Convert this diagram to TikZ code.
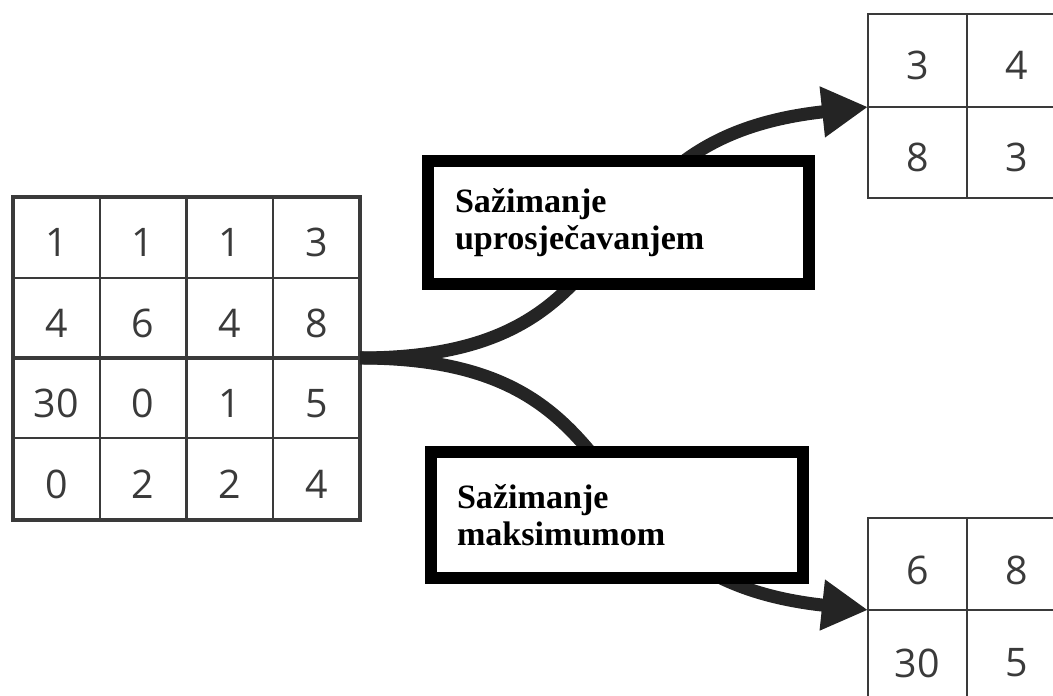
\documentclass[tikz,border=0pt]{standalone}
\usepackage{fontspec}
\setmainfont{Open Sans}
\newfontfamily\labelfont{Liberation Serif}
\usetikzlibrary{arrows.meta}
\definecolor{gridgray}{HTML}{3A3A3A}
\definecolor{arrowgray}{HTML}{242424}
\tikzset{
	num/.style={font=\fontsize{11.2pt}{13pt}\selectfont, text=gridgray, inner sep=0pt},
	thinline/.style={draw=gridgray, line width=0.02cm},
	thickline/.style={draw=gridgray, line width=0.035cm},
	flow/.style={draw=arrowgray, line width=0.13cm, -{Triangle[length=0.46cm,width=0.48cm]}},
	poolbox/.style={draw=black, fill=white, line width=0.12cm, align=left, inner sep=0pt,
		font=\labelfont\bfseries\fontsize{9.7pt}{10.4pt}\selectfont}
}
\begin{document}
\begin{tikzpicture}
	\useasboundingbox (0,0) rectangle (10.53,6.96);
	\clip (0,0) rectangle (10.53,6.96);
	%
	% input 4x4
	\draw[thinline] (1.00,1.76)--(1.00,4.99) (2.73,1.76)--(2.73,4.99) (0.13,4.18)--(3.60,4.18) (0.13,2.58)--(3.60,2.58);
	\draw[thickline] (0.13,1.76) rectangle (3.60,4.99) (1.865,1.76)--(1.865,4.99) (0.13,3.38)--(3.60,3.38);
	\foreach \a/\b/\c/\d [count=\r] in {1/1/1/3, 4/6/4/8, 30/0/1/5, 0/2/2/4} {
		\node[num] (in-\r-1) at (0.565,5.345-0.8075*\r) {\a};
		\node[num] (in-\r-2) at (1.43,5.345-0.8075*\r) {\b};
		\node[num] (in-\r-3) at (2.295,5.345-0.8075*\r) {\c};
		\node[num] (in-\r-4) at (3.165,5.345-0.8075*\r) {\d};
	}
	\coordinate (split) at (3.60,3.38);
	%
	% output grids
	\draw[thinline] (8.68,4.98) rectangle (10.66,6.82) (9.67,4.98)--(9.67,6.82) (8.68,5.89)--(10.66,5.89);
	\node[num] (avg-1-1) at (9.175,6.31) {3};	\node[num] (avg-1-2) at (10.165,6.31) {4};
	\node[num] (avg-2-1) at (9.175,5.39) {8};	\node[num] (avg-2-2) at (10.165,5.39) {3};
	\coordinate (avgin) at (8.68,5.89);
	%
	\draw[thinline] (8.68,-0.06) rectangle (10.66,1.78) (9.67,-0.06)--(9.67,1.78) (8.68,0.86)--(10.66,0.86);
	\node[num] (max-1-1) at (9.175,1.26) {6};	\node[num] (max-1-2) at (10.165,1.26) {8};
	\node[num] (max-2-1) at (9.175,0.33) {30};	\node[num] (max-2-2) at (10.165,0.33) {5};
	\coordinate (maxin) at (8.68,0.86);
	%
	% arrows, then the labels over them
	\draw[flow] (split) .. controls +(3.0,0) and +(-3.08,-0.33) .. (avgin);
	\draw[flow] (split) .. controls +(3.0,0) and +(-3.08,0.33) .. (maxin);
	%
	\node[poolbox, minimum width=3.81cm, minimum height=1.23cm, text width=3.27cm] (avgbox) at (6.185,4.735) {Sažimanje\\uprosječavanjem};
	\node[poolbox, minimum width=3.72cm, minimum height=1.26cm, text width=3.2cm] (maxbox) at (6.17,1.81) {Sažimanje\\maksimumom};
\end{tikzpicture}
\end{document}
